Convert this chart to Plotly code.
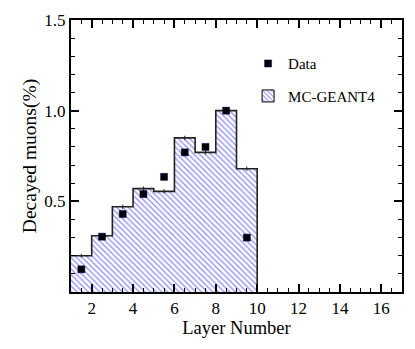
import plotly.graph_objects as go

# layer bins (edges 1..10) and Monte Carlo expectation per layer
bin_edges = [1, 2, 3, 4, 5, 6, 7, 8, 9, 10]
mc_geant4 = [0.20, 0.31, 0.47, 0.57, 0.555, 0.85, 0.77, 1.00, 0.68]
mc_err = [0.01, 0.012, 0.012, 0.012, 0.012, 0.012, 0.012, 0.012, 0.012]

# measured points at layer centres
data_layer = [1.5, 2.5, 3.5, 4.5, 5.5, 6.5, 7.5, 8.5, 9.5]
data_value = [0.125, 0.305, 0.43, 0.54, 0.635, 0.77, 0.80, 1.00, 0.30]

centers = [(a + b) / 2 for a, b in zip(bin_edges[:-1], bin_edges[1:])]
widths = [b - a for a, b in zip(bin_edges[:-1], bin_edges[1:])]

serif = "Liberation Serif"
hatch = dict(shape="\\", fgcolor="#2a2ae0", bgcolor="white", size=4, solidity=0.35)

fig = go.Figure()

# hatched histogram (no inner edges)
fig.add_trace(go.Bar(
    x=centers, y=mc_geant4, width=widths,
    marker=dict(color="white", line=dict(width=0), pattern=hatch),
    showlegend=False, hoverinfo="skip",
))

# step outline on top of the histogram
step_x = bin_edges + [bin_edges[-1]]
step_y = mc_geant4 + [mc_geant4[-1], 0]
fig.add_trace(go.Scatter(
    x=step_x, y=step_y, mode="lines", line_shape="hv",
    line=dict(color="#222", width=1.6), showlegend=False, hoverinfo="skip",
))

# tiny MC error ticks
fig.add_trace(go.Scatter(
    x=centers, y=mc_geant4, mode="markers", marker=dict(size=0.1, color="rgba(0,0,0,0)"),
    error_y=dict(type="data", array=mc_err, color="#222", thickness=1, width=0),
    showlegend=False, hoverinfo="skip",
))

fig.add_trace(go.Scatter(
    x=data_layer, y=data_value, mode="markers", name="Data", legendgroup="a",
    marker=dict(symbol="square", size=7, color="black", line=dict(width=0.5, color="#000050")),
))

# legend entry for the histogram, with a framed hatched box
fig.add_trace(go.Bar(
    x=[None], y=[None], name="MC-GEANT4", legendgroup="b",
    marker=dict(color="white", line=dict(width=1, color="black"), pattern=hatch),
))

fig.update_layout(
    width=415, height=349,
    margin=dict(l=71, r=11, t=14, b=57),
    paper_bgcolor="white", plot_bgcolor="white",
    font=dict(family=serif, size=16, color="black"),
    barmode="overlay", bargap=0,
    legend=dict(
        x=0.535, y=0.9, xanchor="left", yanchor="top",
        traceorder="grouped", font=dict(size=15, family=serif),
        bgcolor="rgba(0,0,0,0)", tracegroupgap=10, itemwidth=30,
    ),
    xaxis=dict(
        range=[1, 17], tickvals=[2, 4, 6, 8, 10, 12, 14, 16],
        ticks="inside", ticklen=8, tickwidth=1.5, tickcolor="black",
        minor=dict(ticks="inside", dtick=0.5, tick0=1, ticklen=4, tickwidth=1.2, tickcolor="black"),
        showline=True, linecolor="black", linewidth=2, mirror="allticks",
        showgrid=False, zeroline=False,
        title=dict(text="Layer Number", font=dict(size=18.5, family=serif), standoff=2),
        tickfont=dict(size=17, family=serif),
    ),
    yaxis=dict(
        range=[0, 1.5], tickvals=[0.5, 1.0, 1.5], ticktext=["0.5", "1.0", "1.5"],
        ticks="inside", ticklen=8, tickwidth=1.5, tickcolor="black",
        minor=dict(ticks="inside", dtick=0.1, tick0=0, ticklen=4, tickwidth=1.2, tickcolor="black"),
        showline=True, linecolor="black", linewidth=2, mirror="allticks",
        showgrid=False, zeroline=False,
        title=dict(text="Decayed muons(%)", font=dict(size=19.5, family=serif), standoff=3),
        tickfont=dict(size=17, family=serif),
    ),
)

fig.write_html("out.html", config={"displayModeBar": False},
               post_script="document.body.style.margin='0';")
